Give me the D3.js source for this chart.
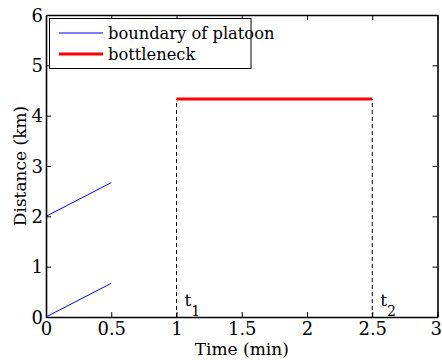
<!DOCTYPE html>
<html><head><meta charset="utf-8">
<script src="https://cdn.jsdelivr.net/npm/d3@7"></script>
<style>body{margin:0;background:#fff}svg{display:block}</style>
</head><body>
<svg id="c" width="442" height="360"></svg>
<script>
const xTicks = [0, 0.5, 1, 1.5, 2, 2.5, 3];
const yTicks = [0, 1, 2, 3, 4, 5, 6];
const platoonTime = [0, 0.5];
const platoonLower = [0, 0.67];
const platoonUpper = [2, 2.67];
const bottleneckTime = [1, 2.5];
const bottleneckDist = [4.33, 4.33];
const markerTimes = [1, 2.5];
const markerLabels = ["1", "2"];
const legendLabels = ["boundary of platoon", "bottleneck"];
const legendColors = ["#0000ff", "#ff0000"];

const FONT = "'DejaVu Serif', 'Liberation Serif', serif";
const svg = d3.select("#c");
const L = 46, R = 437.5, T = 15, B = 317;
const x = d3.scaleLinear().domain([0, 3]).range([L, R]);
const y = d3.scaleLinear().domain([0, 6]).range([B, T]);
const fs = 17;
function txt(sel) { return sel.style("font-family", FONT).attr("fill", "#000"); }

// dashed markers
markerTimes.forEach((t, i) => {
  svg.append("line").attr("x1", x(t)).attr("x2", x(t)).attr("y1", y(0)).attr("y2", y(bottleneckDist[0]))
    .attr("stroke", "#000").attr("stroke-width", 1).attr("stroke-dasharray", "4,3");
  const tx = txt(svg.append("text")).attr("x", x(t) + 8).attr("y", 306).attr("font-size", fs);
  tx.append("tspan").text("t");
  tx.append("tspan").attr("dy", 10).attr("font-size", 14).text(markerLabels[i]);
});

const line = d3.line().x(d => x(d[0])).y(d => y(d[1]));
svg.append("path").datum(platoonTime.map((t, i) => [t, platoonLower[i]]))
  .attr("d", line).attr("stroke", legendColors[0]).attr("fill", "none").attr("stroke-width", 1);
svg.append("path").datum(platoonTime.map((t, i) => [t, platoonUpper[i]]))
  .attr("d", line).attr("stroke", legendColors[0]).attr("fill", "none").attr("stroke-width", 1);
svg.append("path").datum(bottleneckTime.map((t, i) => [t, bottleneckDist[i]]))
  .attr("d", line).attr("stroke", legendColors[1]).attr("fill", "none").attr("stroke-width", 3);

// axes box with inward ticks
const tl = 5;
const gb = svg.append("g").attr("transform", `translate(0,${B})`)
  .call(d3.axisBottom(x).tickValues(xTicks).tickFormat(d3.format("")).tickSizeInner(-tl).tickSizeOuter(0));
const gt = svg.append("g").attr("transform", `translate(0,${T})`)
  .call(d3.axisTop(x).tickValues(xTicks).tickFormat("").tickSizeInner(-tl).tickSizeOuter(0));
const gl = svg.append("g").attr("transform", `translate(${L},0)`)
  .call(d3.axisLeft(y).tickValues(yTicks).tickFormat(d3.format("")).tickSizeInner(-tl).tickSizeOuter(0));
const gr = svg.append("g").attr("transform", `translate(${R},0)`)
  .call(d3.axisRight(y).tickValues(yTicks).tickFormat("").tickSizeInner(-tl).tickSizeOuter(0));
[gb, gt, gl, gr].forEach(g => {
  g.attr("font-family", null).attr("font-size", null);
  g.selectAll("path.domain").attr("stroke", "#000").attr("stroke-width", 1.6);
  g.selectAll(".tick line").attr("stroke", "#000").attr("stroke-width", 1);
  txt(g.selectAll("text")).attr("font-size", 18);
});
gb.selectAll(".tick text").attr("y", 5).attr("dy", "0.71em");
gb.selectAll(".tick text").filter(d => d === xTicks[xTicks.length - 1]).attr("text-anchor", "end").attr("x", 4);
gl.selectAll(".tick text").attr("x", -3).attr("dy", "0.34em");

// axis labels
txt(svg.append("text")).attr("x", (L + R) / 2).attr("y", 355).attr("text-anchor", "middle").attr("font-size", fs).text("Time (min)");
txt(svg.append("text")).attr("transform", `translate(25.5,${(T + B) / 2}) rotate(-90)`).attr("text-anchor", "middle").attr("font-size", fs).text("Distance (km)");

// legend
const lg = svg.append("g");
lg.append("rect").attr("x", 49.5).attr("y", 18.5).attr("width", 201.5).attr("height", 50).attr("fill", "#fff").attr("stroke", "#000").attr("stroke-width", 1);
legendLabels.forEach((lab, i) => {
  const ly = 33 + i * 21;
  lg.append("line").attr("x1", 59).attr("x2", 103).attr("y1", ly).attr("y2", ly)
    .attr("stroke", legendColors[i]).attr("stroke-width", i === 0 ? 1 : 3);
  txt(lg.append("text")).attr("x", 108).attr("y", ly + 6).attr("font-size", 16.3).text(lab);
});
</script>
</body></html>
